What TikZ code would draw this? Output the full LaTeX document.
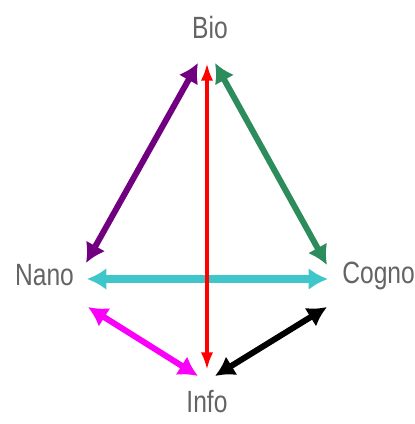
\documentclass[tikz,border=0pt]{standalone}
\usepackage{fontspec}
\setmainfont{Liberation Sans}[FakeStretch=0.8]
\usetikzlibrary{calc,arrows.meta}
\definecolor{purp}{RGB}{112,0,128}
\definecolor{sea}{RGB}{44,140,92}
\definecolor{teal2}{RGB}{62,198,202}
\definecolor{pink2}{RGB}{250,0,250}
\definecolor{labgray}{RGB}{100,100,100}
\begin{document}
\begin{tikzpicture}[x=0.02cm,y=-0.02cm,
  lab/.style={inner sep=0pt,text=labgray,font=\fontsize{17.5}{20}\selectfont},
  link/.style={line width=3.4pt,{Latex[length=11pt,width=12.5pt]}-{Latex[length=11pt,width=12.5pt]}}]
  \useasboundingbox (0,0) rectangle (414,424);
  \node[lab,anchor=base] (bio) at (210,38) {Bio};
  \node[lab,anchor=base] (nano) at (44.5,285) {Nano};
  \node[lab,anchor=base west] (cogno) at (342,283) {Cogno};
  \node[lab,anchor=base] (info) at (207,412) {Info};
  \draw[link,purp] ($(bio.base)+(-12,25)$) -- ($(nano.base)+(41.5,-22)$);
  \draw[link,sea] ($(bio.base)+(5,25)$) -- ($(cogno.base west)+(-15,-18)$);
  \draw[link,teal2,line width=4pt] ($(nano.base)+(42.5,-6)$) -- ($(cogno.base west)+(-14,-4)$);
  \draw[link,pink2] ($(nano.base)+(43.5,22)$) -- ($(info.base)+(-9,-36)$);
  \draw[link,black] ($(cogno.base west)+(-15,24)$) -- ($(info.base)+(8,-36)$);
  \draw[red,line width=2.4pt,{Latex[length=10pt,width=7pt]}-{Latex[length=10pt,width=7pt]}]
    ($(bio.base)+(-3,25)$) -- ($(info.base)+(0,-42)$);
\end{tikzpicture}
\end{document}
